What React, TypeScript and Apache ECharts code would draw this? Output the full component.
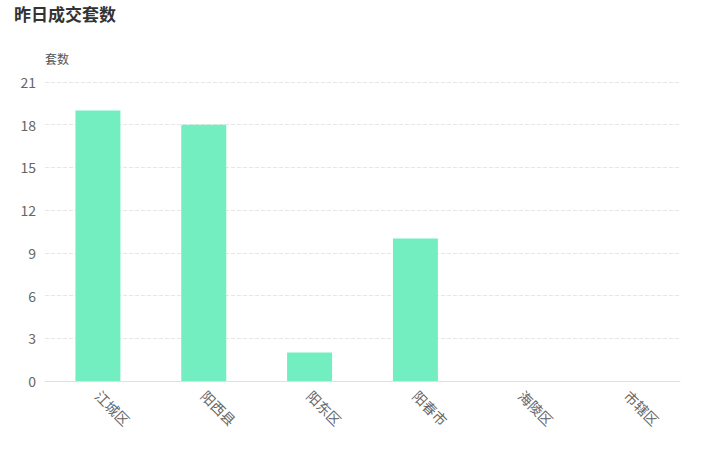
import React, { useEffect, useRef } from "react";
import * as echarts from "echarts";

const categories = ["江城区", "阳西县", "阳东区", "阳春市", "海陵区", "市辖区"];
const values = [19, 18, 2, 10, 0, 0];
const yTicks = { min: 0, max: 21, interval: 3 };

export default function App() {
  const ref = useRef<HTMLDivElement>(null);
  useEffect(() => {
    document.body.style.margin = "0";
    if (!ref.current) return;
    const chart = echarts.init(ref.current, undefined, { renderer: "svg" });
    chart.setOption({
      animation: false,
      textStyle: { fontFamily: "'Noto Sans CJK SC', sans-serif" },
      title: {
        text: "昨日成交套数",
        left: 14,
        top: 5,
        padding: 0,
        textStyle: { fontSize: 17, fontWeight: "bold", color: "#333", fontFamily: "'Noto Sans CJK SC', sans-serif" },
      },
      grid: { left: 45, right: 26, top: 82, bottom: 87 },
      xAxis: {
        type: "category",
        data: categories,
        axisLine: { lineStyle: { color: "#e0e0e0" } },
        axisTick: { show: false },
        axisLabel: { rotate: -45, color: "#666", fontSize: 14, margin: 12 },
      },
      yAxis: {
        type: "value",
        name: "套数",
        nameGap: 18,
        nameTextStyle: { color: "#555", fontSize: 12, align: "left", padding: [0, 0, 0, 0] },
        min: yTicks.min,
        max: yTicks.max,
        interval: yTicks.interval,
        axisLine: { show: false },
        axisTick: { show: false },
        axisLabel: { color: "#666", fontSize: 14, margin: 9 },
        splitLine: { lineStyle: { color: "#e6e6e6", type: "dashed" } },
      },
      series: [
        {
          type: "bar",
          data: values,
          barWidth: 45,
          itemStyle: { color: "#73EEC0" },
        },
      ],
    });
    return () => chart.dispose();
  }, []);
  return <div ref={ref} style={{ width: 706, height: 468 }} />;
}
